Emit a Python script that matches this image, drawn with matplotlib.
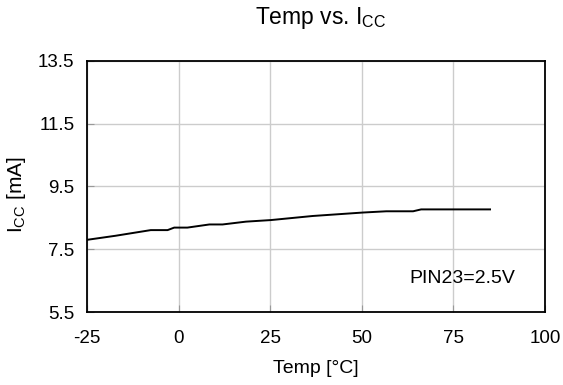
import matplotlib.pyplot as plt
import numpy as np

plt.rcParams['font.family'] = ['Liberation Sans', 'DejaVu Sans']
plt.rcParams['mathtext.default'] = 'regular'
plt.rcParams['axes.unicode_minus'] = False

# Temp [C] vs Icc [mA]
temp = [-25, -17.2, -7.6, -3.0, -1.2, 2.4, 8.4, 12.0, 18.4, 25.2, 36.6, 50.3, 56.7, 64.0, 66.2, 85.0]
icc = [7.80, 7.93, 8.11, 8.11, 8.19, 8.19, 8.29, 8.29, 8.38, 8.43, 8.56, 8.67, 8.71, 8.71, 8.77, 8.77]

xticks = [-25, 0, 25, 50, 75, 100]
yticks = [5.5, 7.5, 9.5, 11.5, 13.5]

fig = plt.figure(figsize=(5.63, 3.85), dpi=100)
ax = fig.add_axes([0.1545, 0.1896, 0.8135, 0.652])

ax.plot(temp, icc, color='black', lw=1.4)

ax.set_xlim(-25, 100)
ax.set_ylim(5.5, 13.5)
ax.set_xticks(xticks)
ax.set_yticks(yticks)
ax.set_yticklabels(['5.5', '7.5', '9.5', '11.5', '13.5'])
ax.grid(color='#cccccc', lw=1)
ax.tick_params(direction='in', length=5, labelsize=13.5, color='#999999')
ax.tick_params(axis='x', pad=13)
ax.tick_params(axis='y', pad=9)
for s in ax.spines.values():
    s.set_linewidth(1.3)

ax.set_xlabel('Temp [°C]', fontsize=14, labelpad=9)
fig.text(16 / 563, 1 - 195 / 385, 'I$_{CC}$ [mA]', fontsize=15, rotation=90,
         ha='center', va='center')
ax.text(77.5, 6.57, 'PIN23=2.5V', fontsize=14, ha='center', va='center')

fig.text(0.57, 0.952, 'Temp vs. I$_{CC}$', fontsize=16.5, ha='center', va='center')

plt.savefig('out.png')
